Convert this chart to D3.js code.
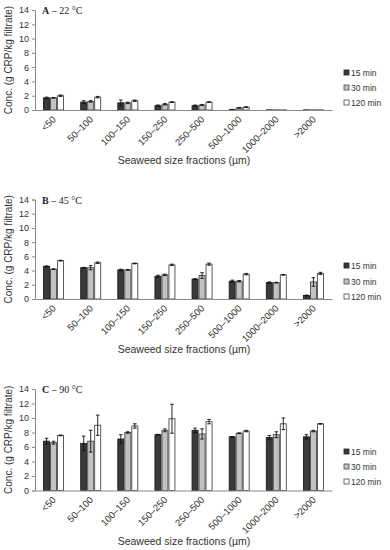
<!DOCTYPE html>
<html><head><meta charset="utf-8">
<script src="https://cdn.jsdelivr.net/npm/d3@7"></script>
<style>body{margin:0;background:#fff}svg{display:block}</style>
</head><body>
<script>
const categories = ["<50","50–100","100–150","150–250","250–500","500–1000","1000–2000",">2000"];
const seriesNames = ["15 min","30 min","120 min"];
const yTicks = [0,2,4,6,8,10,12,14];
const panelTitles = [["A"," – 22 °C"],["B"," – 45 °C"],["C"," – 90 °C"]];
// values [panel][series][category]
const valsA15 = [1.7,1.1,1.0,0.6,0.6,0.05,0.02,0.02];
const valsA30 = [1.7,1.2,1.0,0.8,0.7,0.3,0.02,0.02];
const valsA120 = [2.0,1.8,1.3,1.1,1.1,0.4,0.02,0.02];
const errA15 = [0.1,0.2,0.4,0.1,0.1,0.03,0,0];
const errA30 = [0.05,0.1,0.1,0.1,0.05,0.05,0,0];
const errA120 = [0.1,0.1,0.1,0.05,0.05,0.05,0,0];
const valsB15 = [4.6,4.4,4.1,3.2,2.8,2.5,2.3,0.5];
const valsB30 = [4.2,4.4,4.1,3.4,3.3,2.5,2.3,2.4];
const valsB120 = [5.4,5.1,5.0,4.8,4.9,3.5,3.4,3.6];
const errB15 = [0.05,0.05,0.1,0.15,0.05,0.15,0.1,0.05];
const errB30 = [0.05,0.3,0.05,0.1,0.4,0.1,0.05,0.6];
const errB120 = [0.05,0.1,0.05,0.1,0.15,0.1,0.05,0.15];
const valsC15 = [6.8,6.5,7.1,7.7,8.3,7.4,7.3,7.4];
const valsC30 = [6.6,6.8,8.0,8.3,7.8,7.9,7.7,8.2];
const valsC120 = [7.6,9.0,8.9,9.9,9.5,8.2,9.2,9.2];
const errC15 = [0.4,1.0,0.6,0.05,0.3,0.05,0.3,0.3];
const errC30 = [0.2,1.5,0.1,0.2,0.7,0.05,0.4,0.1];
const errC120 = [0.05,1.4,0.3,2.0,0.3,0.1,0.8,0.05];

const panels = [
  {vals:[valsA15,valsA30,valsA120], errs:[errA15,errA30,errA120], top:10, bottom:110, leg:[73,88,103]},
  {vals:[valsB15,valsB30,valsB120], errs:[errB15,errB30,errB120], top:199.5, bottom:299, leg:[266,282,297]},
  {vals:[valsC15,valsC30,valsC120], errs:[errC15,errC30,errC120], top:389, bottom:490.5, leg:[452,467,482]}
];
const fills = ["#3a3a3a","#c2c2c2","#ffffff"];
const strokes = ["#1e1e1e","#4a4a4a","#4a4a4a"];

const W=390,H=550;
const svg = d3.select("body").append("svg").attr("width",W).attr("height",H);
const x = d3.scaleBand().domain(categories).range([35,332]).paddingInner(0).paddingOuter(0);
const bw = 7;
const sub = d3.scaleBand().domain(seriesNames).range([-bw*1.5, bw*1.5]);

panels.forEach((p,pi)=>{
  const g = svg.append("g");
  const y = d3.scaleLinear().domain([0,14]).range([p.bottom,p.top]);
  p.vals.forEach((arr,si)=>{
    g.selectAll(null).data(arr).enter().append("rect")
      .attr("x",(d,i)=>x(categories[i])+x.bandwidth()/2+sub(seriesNames[si])+0.5)
      .attr("y",d=>y(d))
      .attr("width",bw-1)
      .attr("height",d=>Math.max(0,y(0)-y(d)))
      .attr("fill",fills[si]).attr("stroke",strokes[si]).attr("stroke-width",0.9);
    const e = p.errs[si];
    arr.forEach((d,i)=>{
      if(!e[i]) return;
      const cx = x(categories[i])+x.bandwidth()/2+sub(seriesNames[si])+bw/2;
      g.append("line").attr("x1",cx).attr("x2",cx).attr("y1",y(d-e[i])).attr("y2",y(d+e[i])).attr("stroke","#111").attr("stroke-width",0.9);
      [d-e[i],d+e[i]].forEach(v=>g.append("line").attr("x1",cx-1.8).attr("x2",cx+1.8).attr("y1",y(v)).attr("y2",y(v)).attr("stroke","#111").attr("stroke-width",0.9));
    });
  });
  const ya = g.append("g").attr("transform","translate(35,0)")
    .call(d3.axisLeft(y).tickValues(yTicks).tickSize(3).tickPadding(3));
  ya.select(".domain").attr("stroke","#8a8a8a");
  ya.selectAll(".tick line").attr("stroke","#8a8a8a");
  ya.selectAll(".tick text").attr("font-family","Liberation Sans, Arial, sans-serif").attr("font-size",9).attr("fill","#333");
  const xa = g.append("g").attr("transform",`translate(0,${p.bottom})`)
    .call(d3.axisBottom(x).tickSize(0).tickFormat(""));
  xa.select(".domain").attr("stroke","#8a8a8a");
  g.selectAll(null).data(categories).enter().append("text")
    .attr("transform",d=>`translate(${x(d)+x.bandwidth()/2+3},${p.bottom+10}) rotate(-45)`)
    .attr("text-anchor","end")
    .attr("font-family","Liberation Sans, Arial, sans-serif").attr("font-size",9.5).attr("fill","#333")
    .text(d=>d);
  g.append("text").attr("x",184).attr("y",p.bottom+54).attr("text-anchor","middle")
    .attr("font-family","Liberation Sans, Arial, sans-serif").attr("font-size",10.5).attr("fill","#333")
    .text("Seaweed size fractions (µm)");
  g.append("text").attr("transform",`translate(12,${(p.top+p.bottom)/2}) rotate(-90)`).attr("text-anchor","middle")
    .attr("font-family","Liberation Sans, Arial, sans-serif").attr("font-size",10).attr("fill","#333")
    .text("Conc. (g CRP/kg filtrate)");
  const t = g.append("text").attr("x",42).attr("y",p.top+4)
    .attr("font-family","Liberation Serif, Times New Roman, serif").attr("font-size",10).attr("fill","#222");
  t.append("tspan").attr("font-weight","bold").text(panelTitles[pi][0]);
  t.append("tspan").text(panelTitles[pi][1]);
  seriesNames.forEach((s,si)=>{
    g.append("rect").attr("x",344).attr("y",p.leg[si]-3).attr("width",5).attr("height",5)
      .attr("fill",fills[si]).attr("stroke",strokes[si]).attr("stroke-width",0.8);
    g.append("text").attr("x",351).attr("y",p.leg[si]+3)
      .attr("font-family","Liberation Sans, Arial, sans-serif").attr("font-size",8.5).attr("fill","#333").text(s);
  });
});
</script>
</body></html>
